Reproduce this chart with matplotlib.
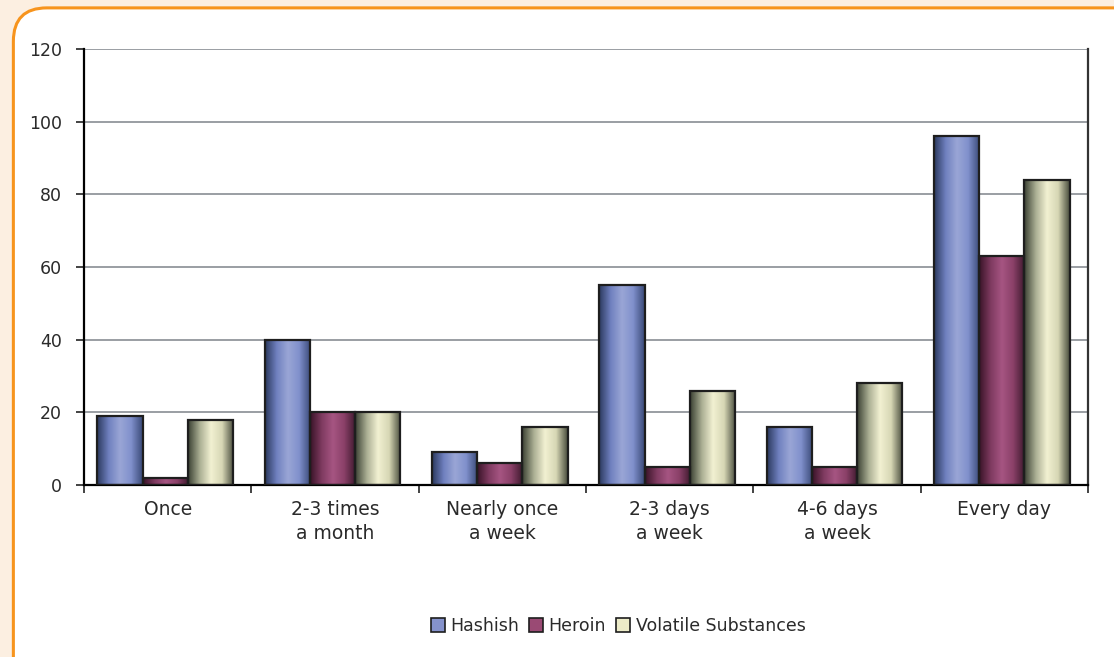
import numpy as np
import matplotlib.pyplot as plt
from matplotlib.colors import LinearSegmentedColormap
from matplotlib.patches import FancyBboxPatch, Rectangle

categories = ["Once", "2-3 times\na month", "Nearly once\na week",
              "2-3 days\na week", "4-6 days\na week", "Every day"]
series_names = ["Hashish", "Heroin", "Volatile Substances"]
hashish = [19, 40, 9, 55, 16, 96]
heroin = [2, 20, 6, 5, 5, 63]
volatile = [18, 20, 16, 26, 28, 84]
yticks = [0, 20, 40, 60, 80, 100, 120]

# dark edge -> light middle -> dark edge, per series
shades = [
    ["#2c3a60", "#6f80bf", "#9aa6d6", "#8090cc", "#3a4a78"],
    ["#3a1428", "#7e3a60", "#a65582", "#8a4068", "#3f1a2e"],
    ["#3c4234", "#a9ad92", "#f2f1d2", "#d6d6b4", "#4a4e3e"],
]
face = ["#8592cc", "#9a4a74", "#ecebc8"]
txt = "#2a2a2a"

fig = plt.figure(figsize=(11.14, 6.57), dpi=100)
fig.patch.set_facecolor("#fcefe1")
fig.patches.append(FancyBboxPatch((0.012, -0.1), 1.1, 1.088, transform=fig.transFigure,
                                  boxstyle="round,pad=0,rounding_size=0.03",
                                  facecolor="white", edgecolor="#f7941d", linewidth=2.2,
                                  mutation_aspect=1114 / 657, zorder=-1))

ax = fig.add_axes([0.0754, 0.2618, 0.9013, 0.6636])
ax.set_facecolor("none")
x = np.arange(len(categories))
w = 0.27
data = [hashish, heroin, volatile]
for i, vals in enumerate(data):
    cmap = LinearSegmentedColormap.from_list(series_names[i], shades[i])
    grad = np.linspace(0, 1, 64).reshape(1, -1)
    for j, v in enumerate(vals):
        x0 = x[j] + (i - 1) * w - w / 2 - 0.015
        ax.imshow(grad, cmap=cmap, aspect="auto", extent=(x0, x0 + w, 0, v),
                  zorder=2, interpolation="bilinear")
        ax.add_patch(Rectangle((x0, 0), w, v, fill=False, edgecolor="#1e1e1e",
                               linewidth=1.6, zorder=3))

ax.set_xlim(-0.5, len(categories) - 0.5)
ax.set_ylim(0, 120)
ax.set_yticks(yticks)
ax.set_xticks(x)
ax.set_xticklabels(categories, fontsize=13.5, color=txt, linespacing=1.3)
ax.set_xticks(np.arange(-0.5, len(categories)), minor=True)
ax.tick_params(axis="x", which="major", length=0, pad=11)
ax.tick_params(axis="x", which="minor", length=6, width=1.2, color="#222222")
ax.tick_params(axis="y", length=6, width=1.2, color="#222222", labelsize=12.5,
               labelcolor=txt, pad=10)
ax.yaxis.grid(True, color="#9a9ea3", linewidth=1.4, zorder=1)
ax.set_axisbelow(True)
ax.spines["top"].set_visible(False)
ax.spines["left"].set_linewidth(1.6)
ax.spines["bottom"].set_linewidth(1.6)
ax.spines["right"].set_linewidth(1.6)
ax.spines["right"].set_color("#333333")

handles = [Rectangle((0, 0), 1, 1, facecolor=face[i], edgecolor="#1e1e1e", linewidth=1.2)
           for i in range(3)]
leg = fig.legend(handles, series_names, loc="center", bbox_to_anchor=(0.555, 0.047), ncol=3,
                 frameon=False, fontsize=12.5, handlelength=0.8, handleheight=0.8,
                 handletextpad=0.3, columnspacing=0.6)
for t in leg.get_texts():
    t.set_color(txt)

fig.savefig("out.png", dpi=100, facecolor=fig.get_facecolor())
